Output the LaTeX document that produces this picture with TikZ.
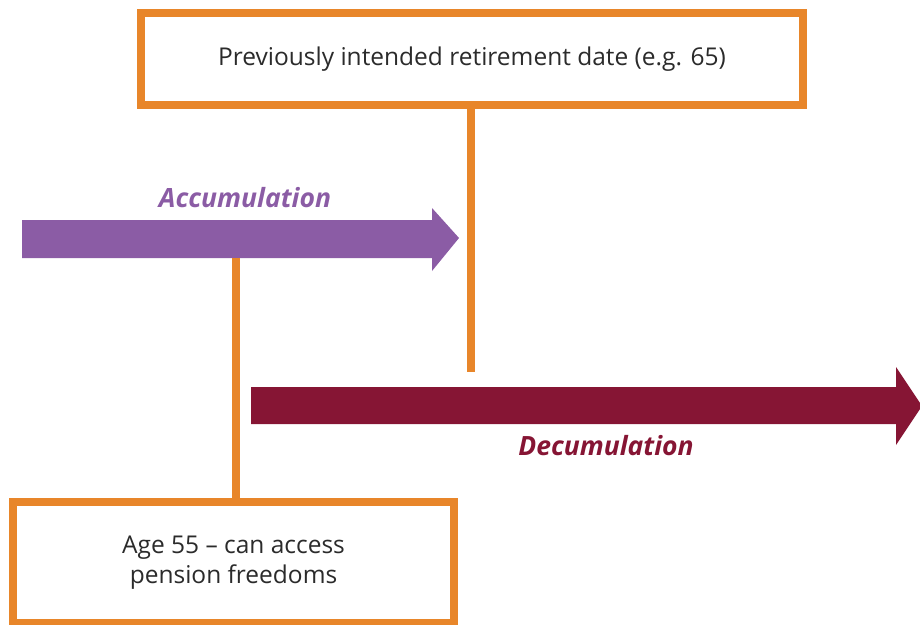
\documentclass[tikz,border=0pt]{standalone}
\usepackage{fontspec}
\setmainfont{Open Sans}
\definecolor{bxorange}{HTML}{E8862A}
\definecolor{accpurple}{HTML}{8B5CA5}
\definecolor{decmaroon}{HTML}{861534}
\definecolor{txtgray}{HTML}{2B2B2B}
\tikzset{
  box/.style={draw=bxorange, line width=8pt, fill=white, align=center, inner sep=0pt,
    text=txtgray, font=\fontsize{24.5}{30}\selectfont},
  stem/.style={draw=bxorange, line width=8pt},
  lbl/.style={font=\fontsize{26.5}{30}\selectfont\bfseries\itshape, inner sep=0pt}
}
\begin{document}
\begin{tikzpicture}[x=1pt,y=-1pt]
\useasboundingbox (0,0) rectangle (920,624);
% Accumulation arrow
\fill[accpurple] (22,220) -- (432,220) -- (432,208) -- (459,238) -- (432,271) -- (432,258) -- (22,258) -- cycle;
\node[lbl, text=accpurple] (acc) at (245,198) {Accumulation};
% Decumulation arrow
\fill[decmaroon] (251,387) -- (896,387) -- (896,367) -- (922,406) -- (896,445) -- (896,424) -- (251,424) -- cycle;
\node[lbl, text=decmaroon] (dec) at (606,446) {Decumulation};
% boxes
\node[box, minimum width=662pt, minimum height=92pt] (top) at (472,59) {Previously intended retirement date (e.g. 65)};
\node[box, minimum width=441pt, minimum height=121pt] (bot) at (233.5,562.5) {Age 55 -- can access\\pension freedoms};
% stems
\coordinate (topend) at (471,372);
\coordinate (accbot) at (236,258);
\draw[stem] (topend |- top.south) -- (topend);
\draw[stem] (accbot) -- (accbot |- bot.north);
\end{tikzpicture}
\end{document}
